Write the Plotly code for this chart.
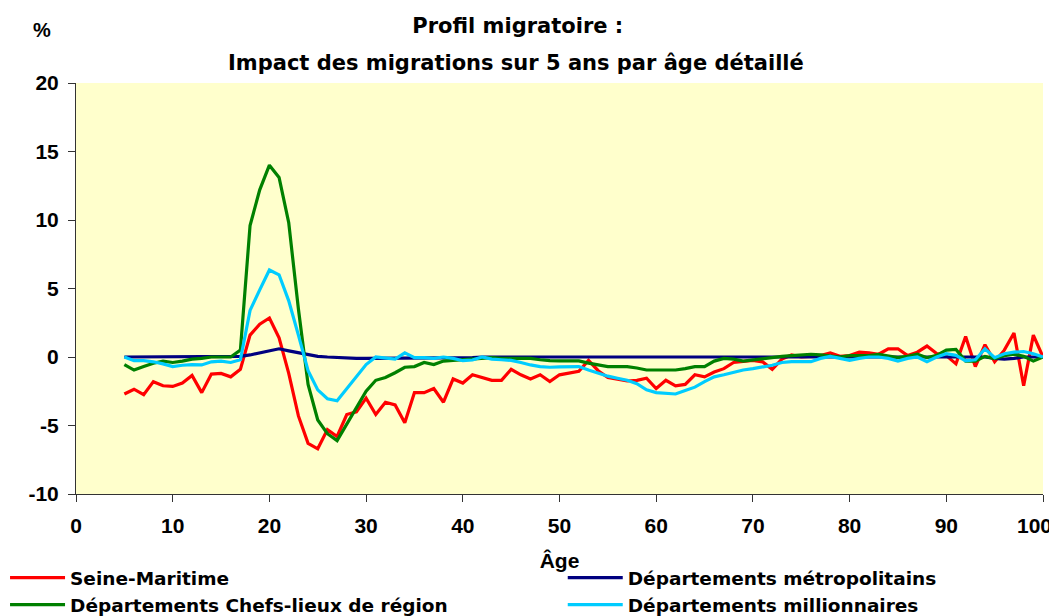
import plotly.graph_objects as go

ages = list(range(5, 101))

seine_maritime = [
    -2.7, -2.35, -2.75, -1.8, -2.1, -2.15, -1.9, -1.35, -2.6, -1.25,
    -1.2, -1.45, -0.9, 1.6, 2.4, 2.85, 1.4, -1.2, -4.3, -6.3,
    -6.7, -5.3, -5.8, -4.2, -4.0, -3.0, -4.2, -3.3, -3.5, -4.8,
    -2.6, -2.6, -2.3, -3.3, -1.6, -1.9, -1.3, -1.5, -1.7, -1.7,
    -0.9, -1.3, -1.6, -1.3, -1.8, -1.3, -1.15, -1.05, -0.25, -1.0,
    -1.5, -1.65, -1.75, -1.7, -1.55, -2.3, -1.7, -2.1, -2.0, -1.3,
    -1.45, -1.1, -0.85, -0.4, -0.3, -0.25, -0.35, -0.9, -0.15, 0.15,
    0.0, 0.05, 0.1, 0.3, 0.05, 0.1, 0.35, 0.3, 0.2, 0.6,
    0.6, 0.1, 0.35, 0.8, 0.25, 0.1, -0.5, 1.5, -0.7, 0.9,
    -0.35, 0.5, 1.75, -2.1, 1.6, 0.0,
]

metropolitains = [
    0.0, 0.0, 0.0, 0.0, 0.0, 0.0, 0.0, 0.0, 0.0, 0.0,
    0.0, 0.0, 0.05, 0.15, 0.3, 0.45, 0.6, 0.45, 0.3, 0.15,
    0.05, 0.0, -0.05, -0.1, -0.1, -0.1, -0.1, -0.1, -0.1, -0.1,
    -0.1, -0.1, -0.1, -0.1, -0.1, -0.1, -0.05, 0.0, 0.0, 0.0,
    0.0, 0.0, 0.0, 0.0, 0.0, 0.0, 0.0, 0.0, 0.0, 0.0,
    0.0, 0.0, 0.0, 0.0, 0.0, 0.0, 0.0, 0.0, 0.0, 0.0,
    0.0, 0.0, 0.0, 0.0, 0.0, 0.0, 0.0, 0.0, 0.0, 0.0,
    0.0, 0.0, 0.0, 0.0, 0.0, 0.0, 0.0, 0.0, 0.0, 0.0,
    0.0, 0.0, 0.0, 0.0, 0.0, 0.0, 0.0, 0.0, 0.0, 0.0,
    -0.1, -0.15, -0.1, 0.0, 0.0, 0.0,
]

chefs_lieux = [
    -0.55, -0.95, -0.7, -0.45, -0.3, -0.4, -0.3, -0.15, -0.1, 0.0,
    0.0, 0.0, 0.5, 9.6, 12.2, 14.0, 13.1, 9.8, 3.5, -2.0,
    -4.6, -5.6, -6.1, -4.9, -3.8, -2.5, -1.7, -1.5, -1.15, -0.75,
    -0.7, -0.4, -0.55, -0.3, -0.25, -0.2, -0.15, -0.05, -0.05, -0.1,
    -0.1, -0.1, -0.1, -0.2, -0.27, -0.28, -0.29, -0.29, -0.45, -0.55,
    -0.7, -0.7, -0.7, -0.8, -0.95, -0.95, -0.95, -0.95, -0.85, -0.7,
    -0.7, -0.3, -0.1, -0.15, -0.3, -0.2, -0.1, 0.0, 0.05, 0.1,
    0.15, 0.2, 0.15, 0.1, 0.0, 0.1, 0.1, 0.1, 0.2, 0.1,
    -0.05, 0.05, 0.2, -0.05, 0.12, 0.5, 0.55, -0.3, -0.3, 0.05,
    -0.12, 0.1, 0.2, 0.05, -0.3, 0.0,
]

millionnaires = [
    0.0, -0.27, -0.27, -0.35, -0.5, -0.7, -0.6, -0.55, -0.58, -0.35,
    -0.3, -0.4, -0.2, 3.4, 4.9, 6.35, 6.0, 4.1, 1.6, -1.0,
    -2.4, -3.05, -3.2, -2.3, -1.4, -0.55, 0.0, -0.05, -0.15, 0.3,
    -0.05, -0.05, -0.1, 0.0, -0.1, -0.27, -0.22, 0.0, -0.15, -0.2,
    -0.25, -0.4, -0.58, -0.7, -0.75, -0.72, -0.7, -0.7, -0.95, -1.2,
    -1.4, -1.55, -1.7, -1.95, -2.4, -2.6, -2.65, -2.7, -2.45, -2.2,
    -1.8, -1.45, -1.3, -1.1, -0.95, -0.85, -0.75, -0.6, -0.4, -0.34,
    -0.34, -0.34, -0.1, 0.05, -0.1, -0.25, -0.1, 0.0, 0.0, -0.1,
    -0.3, -0.1, 0.0, -0.35, 0.0, 0.24, 0.12, -0.28, -0.2, 0.6,
    -0.05, 0.24, 0.35, 0.4, 0.24, 0.0,
]

series = [
    ("Seine-Maritime", seine_maritime, "#FF0000", "legend"),
    ("Départements métropolitains", metropolitains, "#000080", "legend2"),
    ("Départements Chefs-lieux de région", chefs_lieux, "#008000", "legend"),
    ("Départements millionnaires", millionnaires, "#00CCFF", "legend2"),
]

x_ticks = list(range(0, 101, 10))
y_ticks = list(range(-10, 21, 5))

TXT = "Liberation Sans, Arial, sans-serif"
WIDE = "DejaVu Sans, sans-serif"

# The page body has an 8px margin: the figure sits at (8, 8) in the window.
OFF = 8
# plot area in window pixels
L, R, T, B = 76, 1043.5, 83, 494
PW, PH = R - L, B - T
W, H = 1057, 616


def px(xp):
    return (xp - L) / PW


def py(yp):
    return (B - yp) / PH


fig = go.Figure()
for name, vals, col, leg in series:
    fig.add_trace(go.Scatter(
        x=ages, y=vals, mode="lines", name=name,
        line=dict(color=col, width=3.2),
        legend=leg, legendgroup=name,
    ))

legend_common = dict(
    orientation="v",
    yanchor="top",
    itemwidth=55,
    tracegroupgap=5,
    font=dict(family=WIDE, size=18.5, color="black", weight="bold"),
    bgcolor="rgba(0,0,0,0)",
    traceorder="normal",
)

tick_font = dict(family=TXT, size=21, color="black", weight="bold")

# the last x tick label sits at the window edge: it is drawn shifted left
x_ticktext = [str(v) for v in x_ticks[:-1]] + [""]

fig.update_layout(
    width=W, height=H,
    paper_bgcolor="white",
    plot_bgcolor="#FFFFCC",
    margin=dict(l=L - OFF, r=W - (R - OFF), t=T - OFF, b=H - (B - OFF),
                autoexpand=False),
    title=dict(
        text="Profil migratoire :",
        x=px(518), xanchor="center", xref="paper",
        y=1 - (26 - OFF) / H, yanchor="middle", yref="container",
        font=dict(family=WIDE, size=21, color="black", weight="bold"),
    ),
    showlegend=True,
    legend=dict(x=px(5), xanchor="left", y=py(559), **legend_common),
    legend2=dict(x=px(563), xanchor="left", y=py(559), **legend_common),
    xaxis=dict(
        range=[0, 100], tickvals=x_ticks, ticktext=x_ticktext,
        showgrid=False, zeroline=False,
        showline=True, linecolor="#333333", linewidth=1,
        ticks="outside", ticklen=7, tickcolor="#333333",
        ticklabeloverflow="allow", ticklabelstandoff=6,
        tickfont=tick_font,
        title=dict(text="Âge", standoff=17,
                   font=dict(family=TXT, size=21, color="black", weight="bold")),
    ),
    yaxis=dict(
        range=[-10, 20], tickvals=y_ticks, ticktext=[str(v) for v in y_ticks],
        showgrid=False, zeroline=False,
        showline=True, linecolor="#333333", linewidth=1,
        ticks="outside", ticklen=7, tickcolor="#333333",
        ticklabeloverflow="allow", ticklabelstandoff=5,
        tickfont=tick_font,
    ),
    annotations=[
        dict(
            text="Impact des migrations sur 5 ans par âge détaillé",
            xref="paper", yref="paper", x=px(516), y=py(63),
            xanchor="center", yanchor="middle", showarrow=False,
            font=dict(family=WIDE, size=21, color="black", weight="bold"),
        ),
        dict(
            text="%", xref="paper", yref="paper",
            x=px(42), y=py(30),
            xanchor="center", yanchor="middle", showarrow=False,
            font=dict(family=TXT, size=20, color="black", weight="bold"),
        ),
        dict(
            text=str(x_ticks[-1]), xref="x", yref="paper",
            x=x_ticks[-1], xshift=11, y=py(525),
            xanchor="right", yanchor="middle", showarrow=False,
            font=tick_font,
        ),
    ],
)

fig.write_html("out.html")
